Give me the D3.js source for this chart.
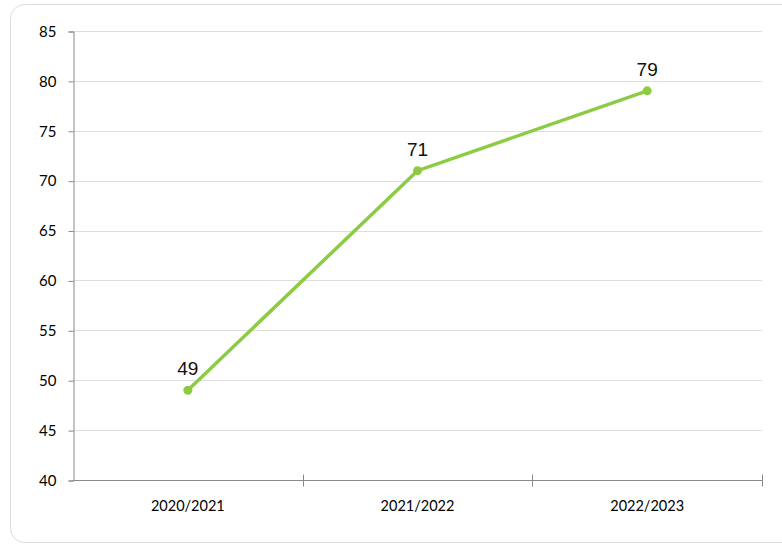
<!DOCTYPE html>
<html>
<head>
<meta charset="utf-8">
<script src="https://cdn.jsdelivr.net/npm/d3@7"></script>
<style>
  body { margin: 0; background: #fff; }
</style>
</head>
<body>
<svg id="chart" width="782" height="546"></svg>
<script>
// chart data
const seasons = ["2020/2021", "2021/2022", "2022/2023"];
const scores = [49, 71, 79];
const yTicks = [40, 45, 50, 55, 60, 65, 70, 75, 80, 85];

const svg = d3.select("#chart");

// outer frame
svg.append("rect")
    .attr("x", 10.5).attr("y", 4.5)
    .attr("width", 800).attr("height", 538)
    .attr("rx", 14)
    .attr("fill", "#fff")
    .attr("stroke", "#dcdcdc");

const plotLeft = 73, plotRight = 762, plotTop = 31, plotBottom = 480;

const x = d3.scaleBand().domain(seasons).range([plotLeft, plotRight]);
const y = d3.scaleLinear().domain([40, 85]).range([plotBottom, plotTop]);

// gridlines
svg.append("g").selectAll("line")
    .data(yTicks.slice(1))
    .enter().append("line")
    .attr("x1", plotLeft).attr("x2", plotRight)
    .attr("y1", d => Math.round(y(d)) + 0.5)
    .attr("y2", d => Math.round(y(d)) + 0.5)
    .attr("stroke", "#dedede");

// y axis
const yAxis = svg.append("g")
    .attr("transform", `translate(${plotLeft + 0.5},0.5)`)
    .call(d3.axisLeft(y).tickValues(yTicks).tickSize(5).tickPadding(12));
yAxis.select(".domain").attr("stroke", "#8a8a8a");
yAxis.selectAll(".tick line").attr("stroke", "#8a8a8a");
yAxis.selectAll("text")
    .attr("font-family", "Lato, 'Open Sans', sans-serif")
    .attr("font-size", 15)
    .attr("fill", "#000");

// x axis (ticks between categories)
const xg = svg.append("g").attr("transform", `translate(0,${plotBottom + 0.5})`);
xg.append("line")
    .attr("x1", plotLeft).attr("x2", plotRight)
    .attr("stroke", "#8a8a8a");
xg.selectAll(".sep")
    .data(seasons)
    .enter().append("line")
    .attr("class", "sep")
    .attr("x1", d => Math.round(x(d) + x.bandwidth()) + 0.5)
    .attr("x2", d => Math.round(x(d) + x.bandwidth()) + 0.5)
    .attr("y1", -6).attr("y2", 6)
    .attr("stroke", "#8a8a8a");
xg.selectAll("text")
    .data(seasons)
    .enter().append("text")
    .attr("x", d => x(d) + x.bandwidth() / 2)
    .attr("y", 30)
    .attr("text-anchor", "middle")
    .attr("font-family", "Lato, 'Open Sans', sans-serif")
    .attr("font-size", 14.5)
    .attr("fill", "#000")
    .text(d => d);

// line + points
const pts = seasons.map((s, i) => ({ s: s, v: scores[i] }));
const line = d3.line()
    .x(d => x(d.s) + x.bandwidth() / 2)
    .y(d => y(d.v));

svg.append("path")
    .datum(pts)
    .attr("d", line)
    .attr("fill", "none")
    .attr("stroke", "#8dcb45")
    .attr("stroke-width", 3.5);

svg.selectAll(".pt")
    .data(pts)
    .enter().append("circle")
    .attr("class", "pt")
    .attr("cx", d => x(d.s) + x.bandwidth() / 2)
    .attr("cy", d => y(d.v))
    .attr("r", 4.5)
    .attr("fill", "#8dcb45");

svg.selectAll(".lbl")
    .data(pts)
    .enter().append("text")
    .attr("class", "lbl")
    .attr("x", d => x(d.s) + x.bandwidth() / 2)
    .attr("y", d => y(d.v) - 15)
    .attr("text-anchor", "middle")
    .attr("font-family", "'Liberation Sans', Arial, sans-serif")
    .attr("font-size", 19)
    .attr("fill", "#111")
    .text(d => d.v);
</script>
</body>
</html>
